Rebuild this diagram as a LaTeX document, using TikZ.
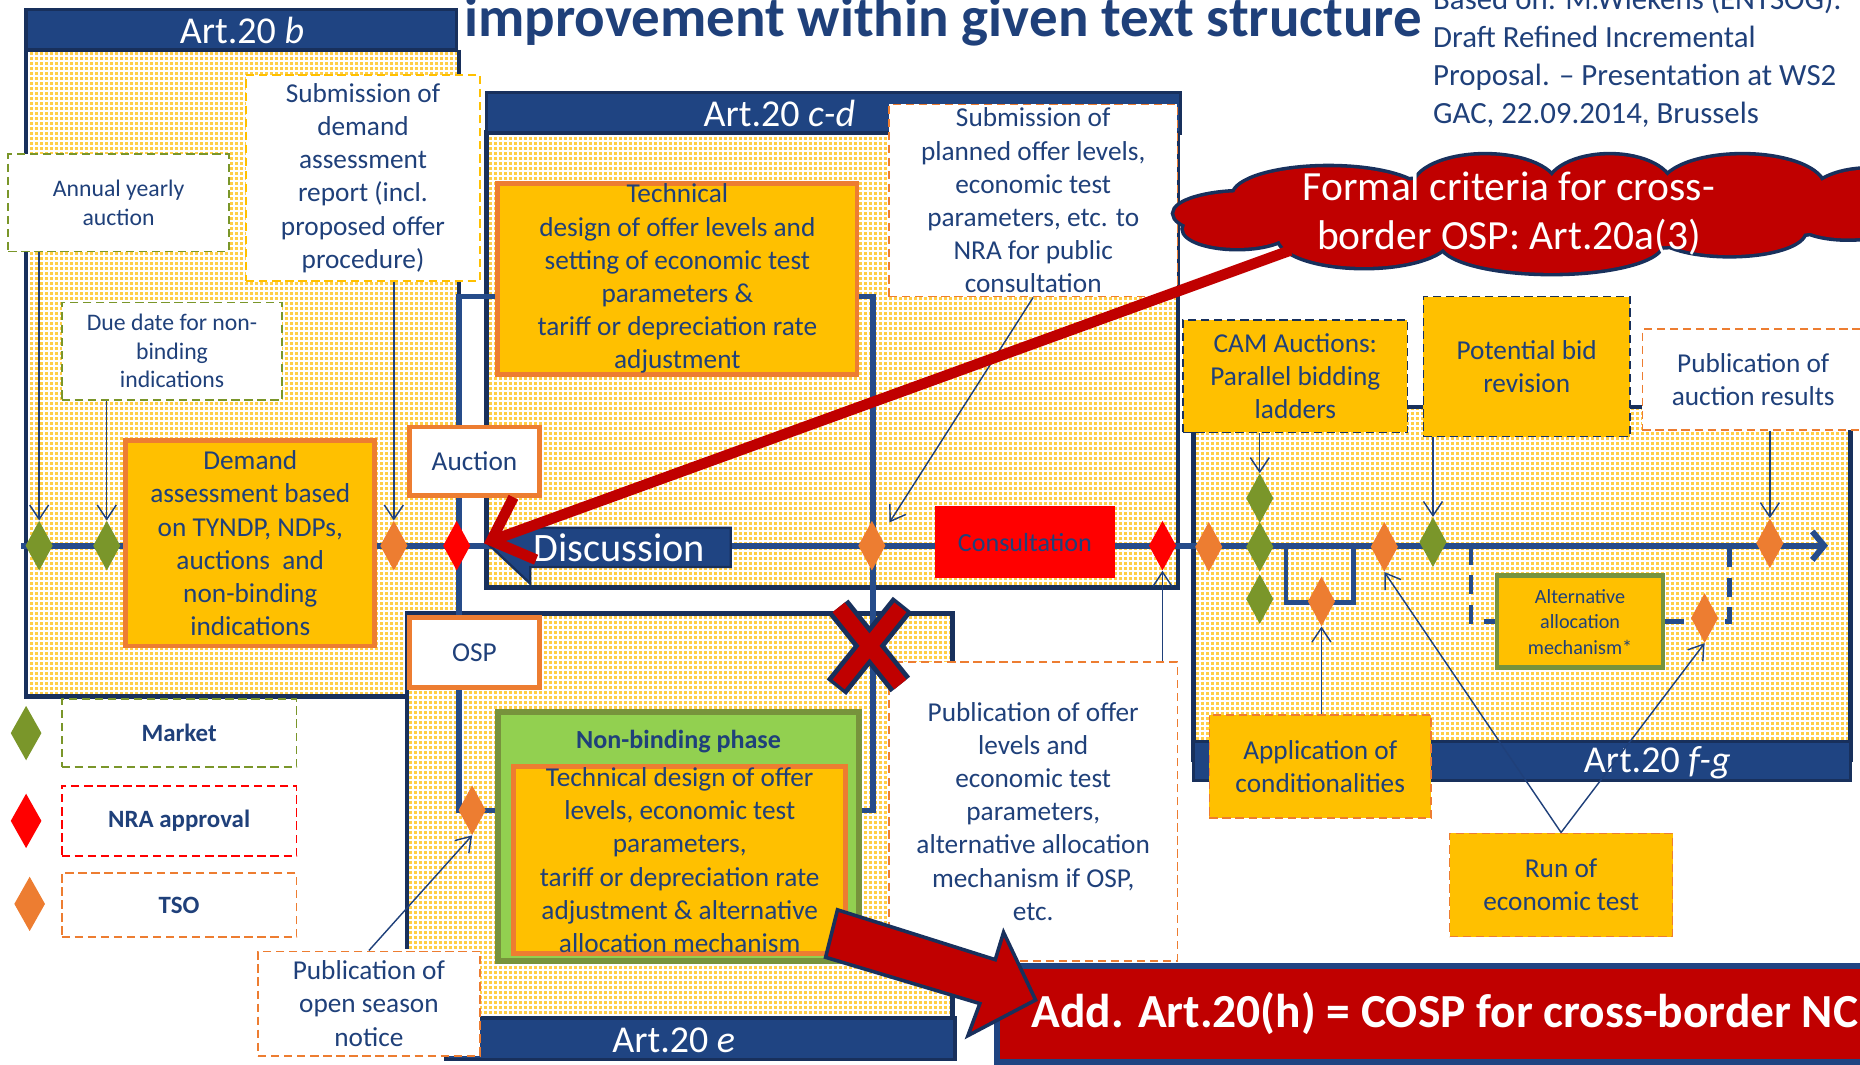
\documentclass[tikz,border=0pt]{standalone}
\usepackage{fontspec}
\setmainfont{Carlito}
\usetikzlibrary{shapes.geometric,arrows.meta,patterns,positioning}

\definecolor{navytext}{RGB}{31,64,122}
\definecolor{barblue}{RGB}{31,68,130}
\definecolor{frameblue}{RGB}{24,48,92}
\definecolor{lineblue}{RGB}{38,76,138}
\definecolor{boxyellow}{RGB}{255,192,0}
\definecolor{tsoorange}{RGB}{237,125,49}
\definecolor{mktgreen}{RGB}{122,150,42}
\definecolor{nbgreen}{RGB}{146,208,80}
\definecolor{nbborder}{RGB}{119,147,60}
\definecolor{crimson}{RGB}{192,0,0}
\definecolor{dotcol}{RGB}{255,206,70}

\pgfdeclarepatternformonly{yeldots}{\pgfqpoint{0pt}{0pt}}{\pgfqpoint{4.2pt}{4.2pt}}{\pgfqpoint{4.2pt}{4.2pt}}%
  {\pgfpathrectangle{\pgfqpoint{1pt}{1pt}}{\pgfqpoint{2.3pt}{2.3pt}}\pgfusepath{fill}}

\tikzset{
  txt/.style={text=navytext, align=center, font=\fontsize{23}{28}\selectfont},
  smalltxt/.style={text=navytext, align=center, font=\fontsize{20}{24}\selectfont},
  area/.style={fill=white, postaction={pattern=yeldots, pattern color=dotcol}},
  frame/.style={draw=frameblue, line width=4pt},
  header/.style={fill=barblue, draw=frameblue, line width=3pt},
  headtxt/.style={text=white, font=\fontsize{32}{36}\selectfont},
  task/.style={txt, fill=boxyellow, draw=tsoorange, line width=4pt, inner sep=0pt},
  choice/.style={txt, fill=white, draw=tsoorange, line width=4pt},
  note/.style={txt, fill=white, dash pattern=on 7pt off 4pt, line width=1.4pt, inner sep=0pt},
  legendbox/.style={note, minimum width=198pt, text=navytext, font=\bfseries\fontsize{21}{24}\selectfont},
  tick/.style={diamond, inner sep=0pt, minimum width=23pt, minimum height=42pt},
  mkt/.style={tick, fill=mktgreen},
  nra/.style={tick, fill=red},
  tso/.style={tick, fill=tsoorange},
  pointer/.style={draw=navytext, line width=1.2pt, -{Straight Barb[length=12pt,width=16pt]}},
  link/.style={draw=lineblue, line width=4.5pt},
}

% puffs of the cloud
\newcommand\cloudpuffs{%
  (1050,180) ellipse [x radius=60, y radius=18]
  (1290,180) ellipse [x radius=280, y radius=30]
  (1120,165) ellipse [x radius=80, y radius=24]
  (1252,158) ellipse [x radius=60, y radius=27]
  (1357,158) ellipse [x radius=52, y radius=27]
  (1469,158) ellipse [x radius=68, y radius=27]
  (1575,168) ellipse [x radius=50, y radius=25]
  (1043,193) ellipse [x radius=45, y radius=16]
  (1150,200) ellipse [x radius=72, y radius=25]
  (1308,205) ellipse [x radius=93, y radius=25]
  (1458,195) ellipse [x radius=63, y radius=20]
  (1558,185) ellipse [x radius=45, y radius=16]}

\begin{document}
\begin{tikzpicture}[x=1pt,y=-1pt]
\useasboundingbox (0,0) rectangle (1568,897);
\clip (0,0) rectangle (1568,897);

% article areas
\path[area] (22,42) rectangle (387,587);
\path[area] (410,112) rectangle (993,495);
\path[area] (343,517) rectangle (803,858);
\path[area] (1006,343) rectangle (1560,625);
\draw[frame] (387,42) -- (387,250);
\draw[frame] (22,42) -- (22,587) -- (343,587);
\draw[frame] (410,112) rectangle (993,495);
\draw[frame] (343,800) -- (343,517) -- (803,517) -- (803,858);
\draw[frame] (1006,343) rectangle (1560,640);

% headers
\draw[header] (22,8) rectangle (385,42);
\node[headtxt] (hdb) at (204,26) {Art.20 \textit{b}};
\draw[header] (410,78) rectangle (995,112);
\node[headtxt] (hdcd) at (657,96) {Art.20 \textit{c-d}};
\draw[header] (376,858) rectangle (805,893);
\node[headtxt] (hde) at (568,877) {Art.20 \textit{e}};
\draw[header] (1006,625) rectangle (1560,658);
\node[headtxt] (hdfg) at (1397,643) {Art.20 \textit{f-g}};

% title and source
\node[anchor=base, text=navytext, font=\bfseries\fontsize{48}{52}\selectfont] (title) at (795,31) {improvement within given text structure};
\node[anchor=north west, inner sep=0pt, align=left, text=navytext, font=\fontsize{26}{32}\selectfont] (source) at (1208,-11)
  {Based on: M.Wiekens (ENTSOG):\\Draft Refined Incremental\\Proposal. – Presentation at WS2\\GAC, 22.09.2014, Brussels};

% time line
\coordinate (tstart) at (18,460);
\coordinate (tend) at (1541,460);
\draw[link, line width=5pt, -{Straight Barb[length=10pt,width=24pt]}] (tstart) -- (tend);

% Art.20 b
\node[note, draw=mktgreen, smalltxt, minimum width=186pt, minimum height=82pt] (annual) at (100,171) {Annual yearly\\auction};
\node[note, draw=mktgreen, smalltxt, minimum width=186pt, minimum height=82pt] (duedate) at (145,296) {Due date for non-\\binding\\indications};
\node[note, draw=boxyellow, minimum width=197pt, minimum height=174pt] (subdemand) at (306,150) {Submission of\\demand\\assessment\\report (incl.\\proposed offer\\procedure)};
\node[task, minimum width=210pt, minimum height=173pt] (demand) at (211,458) {Demand\\assessment based\\on TYNDP, NDPs,\\auctions~ and\\non-binding\\indications};

% Art.20 c-d
\node[task, minimum width=303pt, minimum height=161pt] (technical) at (571,235) {Technical\\design of offer levels and\\setting of economic test\\parameters \&\\tariff or depreciation rate\\adjustment};
\node[note, draw=tsoorange, minimum width=243pt, minimum height=162pt] (subplanned) at (871,169) {Submission of\\planned offer levels,\\economic test\\parameters, etc. to\\NRA for public\\consultation};
\draw[fill=barblue, draw=frameblue, line width=2pt] (413,460) -- (447,445) -- (616,445) -- (616,478) -- (447,478) -- (447,492) -- cycle;
\node[text=white, font=\fontsize{34}{38}\selectfont] (discussion) at (522,462) {Discussion};
\node[fill=red, minimum width=152pt, minimum height=61pt, text=navytext, font=\fontsize{22}{26}\selectfont] (consult) at (864,457) {Consultation};

% Art.20 e
\node[fill=nbgreen, draw=nbborder, line width=5pt, minimum width=305pt, minimum height=210pt] (nonbind) at (572,705) {};
\node[text=navytext, font=\bfseries\fontsize{22}{26}\selectfont] (nbtitle) at (572,625) {Non-binding phase};
\node[task, minimum width=280pt, minimum height=158pt] (nbtask) at (573,725) {Technical design of offer\\levels, economic test\\parameters,\\tariff or depreciation rate\\adjustment \& alternative\\allocation mechanism};
\node[note, draw=tsoorange, minimum width=243pt, minimum height=252pt] (puboffer) at (871,684) {Publication of offer\\levels and\\economic test\\parameters,\\alternative allocation\\mechanism if OSP,\\etc.};
\node[note, draw=tsoorange, minimum width=187pt, minimum height=88pt] (pubopen) at (311,846) {Publication of\\open season\\notice};

% branches
\draw[link] ([yshift=-15pt]technical.west) -- (387,250) -- (387,683) -- ([yshift=22pt]nonbind.west);
\draw[link] ([yshift=-15pt]technical.east) -- (736,250) -- (736,683) -- ([yshift=22pt]nonbind.east);
\node[choice, minimum width=110pt, minimum height=58pt] (auction) at (400,389) {Auction};
\node[choice, minimum width=110pt, minimum height=59pt] (osp) at (400,550) {OSP};

% Art.20 f-g
\node[note, fill=boxyellow, draw=frameblue, minimum width=189pt, minimum height=95pt] (cam) at (1092,317) {CAM Auctions:\\Parallel bidding\\ladders};
\node[note, fill=boxyellow, draw=frameblue, minimum width=174pt, minimum height=118pt] (bidrev) at (1287,309) {Potential bid\\revision};
\node[note, draw=tsoorange, minimum width=187pt, minimum height=85pt] (pubresults) at (1478,320) {Publication of\\auction results};
\node[txt, fill=boxyellow, draw=nbborder, line width=4pt, inner sep=0pt, minimum width=140pt, minimum height=78pt, font=\fontsize{17}{21.5}\selectfont] (altalloc) at (1332,524) {Alternative\\allocation\\mechanism*};
\node[note, fill=boxyellow, draw=tsoorange, minimum width=187pt, minimum height=87pt] (application) at (1113,646) {Application of\\conditionalities};
\node[note, fill=boxyellow, draw=tsoorange, minimum width=188pt, minimum height=87pt] (run) at (1316,746) {Run of\\economic test};
\draw[link, line width=4pt] (1084,460) -- (1084,508) -- (1141,508) -- (1141,460);
\draw[link, line width=4pt, dash pattern=on 16pt off 9pt] (1240,460) -- (1240,524) -- (altalloc.west);
\draw[link, line width=4pt, dash pattern=on 16pt off 9pt] (altalloc.east) -- (1458,524) -- (1458,460);

% milestones
\node[mkt] (g1) at (33,460) {};
\node[mkt] (g2) at (90,460) {};
\node[tso] (o1) at (332,460) {};
\node[nra] (r1) at (385,460) {};
\node[tso] (o2) at (735,460) {};
\node[nra] (r2) at (980,460) {};
\node[tso] (o3) at (1019,461) {};
\node[mkt] (g3) at (1062,420) {};
\node[mkt] (g4) at (1062,461) {};
\node[mkt] (g5) at (1062,505) {};
\node[tso] (o4) at (1114,507) {};
\node[tso] (o5) at (1167,461) {};
\node[mkt] (g6) at (1208,457) {};
\node[tso] (o6) at (1437,521) {};
\node[tso] (o7) at (1492,458) {};
\node[tso] (o8) at (398,683) {};

% legend
\node[mkt, minimum width=26pt, minimum height=46pt] (lgg) at (22,618) {};
\node[nra, minimum width=26pt, minimum height=46pt] (lgr) at (22,692) {};
\node[tso, minimum width=26pt, minimum height=46pt] (lgo) at (25,762) {};
\node[legendbox, draw=mktgreen, minimum height=57pt] (lgmkt) at (151,618) {Market};
\node[legendbox, draw=red, minimum height=59pt] (lgnra) at (151,692) {NRA approval};
\node[legendbox, draw=tsoorange, minimum height=54pt] (lgtso) at (151,763) {TSO};

% pointers
\draw[pointer] (annual.south -| g1) -- (g1.north);
\draw[pointer] (duedate.south -| g2) -- (g2.north);
\draw[pointer] (subdemand.south -| o1) -- (o1.north);
\draw[pointer] (subplanned.south) -- ([xshift=9pt,yshift=9pt]o2.north east);
\draw[pointer] (puboffer.north -| r2) -- (r2.south);
\draw[pointer] (pubopen.north) -- (o8.south);
\draw[pointer] (cam.south -| g3) -- (g3.north);
\draw[pointer] (application.north -| o4) -- (o4.south);
\draw[pointer] (bidrev.south -| g6) -- (g6.north);
\draw[pointer] (pubresults.south -| o7) -- (o7.north);
\draw[pointer] (run.north) -- (o5.south);
\draw[pointer] (run.north) -- (o6.south);

% crossed out
\draw[frameblue, line width=21pt, shorten <=-3pt, shorten >=-3pt] (707,512) -- (759,577) (707,577) -- (759,512);
\draw[crimson, line width=13pt] (707,512) -- (759,577) (707,577) -- (759,512);

% new article
\node[fill=crimson, draw=barblue, line width=5pt, minimum width=800pt, minimum height=81pt, anchor=north west] (banner) at (838,812) {};
\node[anchor=west, text=white, font=\bfseries\fontsize{40}{42}\selectfont] (bannertxt) at (866,854) {Add. Art.20(h) = COSP for cross-border NC};
\draw[fill=crimson, draw=frameblue, line width=3pt, line join=miter] (706,767) -- (839,809) -- (846,786) -- (873,843) -- (816,873) -- (826,846) -- (696,807) -- cycle;

% formal criteria
\path[draw=frameblue, line width=6pt] \cloudpuffs;
\path[fill=crimson] \cloudpuffs;
\node[text=white, align=center, font=\fontsize{35}{42}\selectfont] (cloudtxt) at (1272,180) {Formal criteria for cross-\\border OSP: Art.20a(3)};
\coordinate (redstart) at (1088,211);
\coordinate (redtip) at (408,458);
\draw[crimson, line width=9pt, -{Straight Barb[length=30pt,width=56pt]}] (redstart) -- (redtip);
\end{tikzpicture}
\end{document}
